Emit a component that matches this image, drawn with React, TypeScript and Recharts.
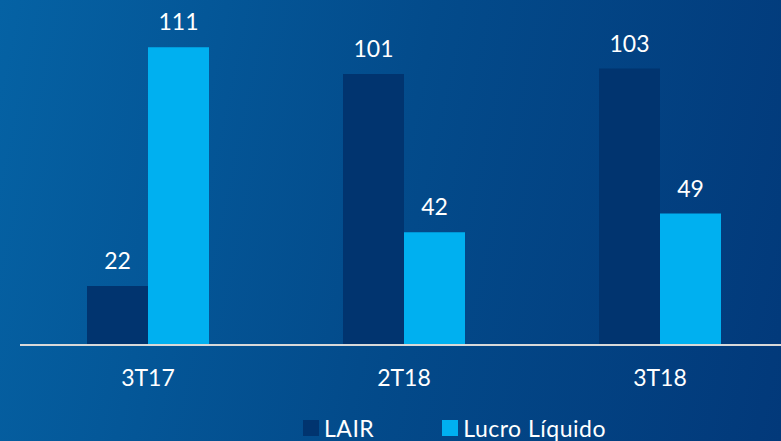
import React from "react";
import { BarChart, Bar, XAxis, YAxis, LabelList } from "recharts";

const categories = ["3T17", "2T18", "3T18"];
const lair = [22, 101, 103];
const lucroLiquido = [111, 42, 49];
const seriesNames = ["LAIR", "Lucro Líquido"];
const seriesColors = ["#01346f", "#00b0f0"];

const data = categories.map((c, i) => ({ name: c, lair: lair[i], lucro: lucroLiquido[i] }));

const font = "Lato, 'Open Sans', sans-serif";

export default function App() {
  return (
    <div
      style={{
        position: "absolute",
        left: 0,
        top: 0,
        width: 781,
        height: 441,
        overflow: "hidden",
        background: "linear-gradient(102deg, #0562a4 0%, #034b8b 50%, #02397a 100%)",
        fontFamily: font,
      }}
    >
      <BarChart
        width={790}
        height={441}
        data={data}
        margin={{ top: 23, right: 2, left: 20, bottom: 0 }}
        barGap={0}
        barSize={61}
      >
        <XAxis
          dataKey="name"
          height={96}
          tickLine={false}
          tickSize={0}
          tickMargin={25}
          axisLine={{ stroke: "#d9d9d9", strokeWidth: 2 }}
          tick={{ fill: "#ffffff", fontSize: 23, fontFamily: font }}
        />
        <YAxis hide domain={[0, 120]} />
        <Bar dataKey="lair" name={seriesNames[0]} fill={seriesColors[0]} isAnimationActive={false}>
          <LabelList dataKey="lair" position="top" offset={17} fill="#ffffff" fontSize={23} fontFamily={font} />
        </Bar>
        <Bar dataKey="lucro" name={seriesNames[1]} fill={seriesColors[1]} isAnimationActive={false}>
          <LabelList dataKey="lucro" position="top" offset={17} fill="#ffffff" fontSize={23} fontFamily={font} />
        </Bar>
      </BarChart>
      <div
        style={{
          position: "absolute",
          top: 414,
          left: 303,
          display: "flex",
          alignItems: "center",
          color: "#ffffff",
          fontSize: 23,
          lineHeight: "28px",
          letterSpacing: 0.5,
        }}
      >
        {seriesNames.map((n, i) => (
          <div key={n} style={{ display: "flex", alignItems: "center", marginRight: 68 }}>
            <span style={{ width: 16, height: 16, background: seriesColors[i], marginRight: 5 }} />
            <span>{n}</span>
          </div>
        ))}
      </div>
    </div>
  );
}
